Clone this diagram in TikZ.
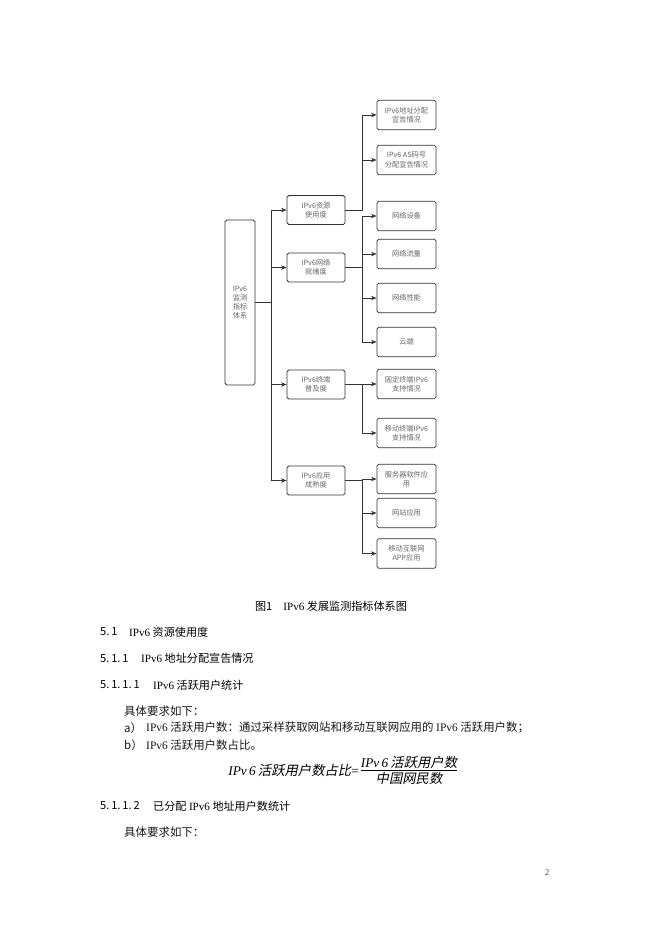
\documentclass[tikz,border=0pt]{standalone}
\usepackage{fontspec}
\setmainfont{Liberation Serif}
\newfontfamily\cjk{Noto Sans CJK SC}
\newfontfamily\cjkit{Noto Sans CJK SC}[FakeSlant=0.2]
\usetikzlibrary{arrows.meta}
\newcommand{\ipv}{{\rmfamily IPv6}}
\begin{document}
\begin{tikzpicture}[x=0.9pt,y=-0.9pt,
  bx/.style={draw=black!80, rounded corners=1.5pt, line width=0.75pt, text=black!60,
    font=\cjk\fontsize{6.5}{8.3}\selectfont, align=center, inner sep=0pt},
  lvtwo/.style={bx, minimum width=52.2pt, minimum height=26.1pt},
  lvthree/.style={bx, minimum width=53.1pt, minimum height=26.6pt},
  arr/.style={-{Stealth[length=5pt,width=4pt]}, line width=0.75pt, draw=black!80},
  ln/.style={line width=0.75pt, draw=black!80},
  body/.style={anchor=west, inner sep=0pt, font=\cjk\fontsize{10.3}{12}\selectfont, text=black!90},
  head/.style={anchor=west, inner sep=0pt, font=\cjk\fontsize{10}{12}\selectfont},
]
\useasboundingbox[fill=white] (0,0) rectangle (662,936);

% root
\node[bx, minimum width=27pt, minimum height=148.5pt] (root) at (240,302.5) {IPv6\\监测\\指标\\体系};

% level 2
\node[lvtwo] (a) at (316,210) {IPv6资源\\使用度};
\node[lvtwo] (b) at (316,267.5) {IPv6网络\\就绪度};
\node[lvtwo] (c) at (316,384.5) {IPv6终端\\普及度};
\node[lvtwo] (d) at (316,480.5) {IPv6应用\\成熟度};

% level 3
\node[lvthree] (a1) at (406.5,115) {IPv6地址分配\\宣告情况};
\node[lvthree] (a2) at (406.5,160) {IPv6 AS码号\\分配宣告情况};
\node[lvthree] (b1) at (406.5,216) {网络设备};
\node[lvthree] (b2) at (406.5,254) {网络流量};
\node[lvthree] (b3) at (406.5,298) {网络性能};
\node[lvthree] (b4) at (406.5,342) {云端};
\node[lvthree] (c1) at (406.5,384) {固定终端IPv6\\支持情况};
\node[lvthree] (c2) at (406.5,433) {移动终端IPv6\\支持情况};
\node[lvthree] (d1) at (406.5,479) {服务器软件应\\用};
\node[lvthree] (d2) at (406.5,513) {网站应用};
\node[lvthree] (d3) at (406.5,553.5) {移动互联网\\APP应用};

% trunk coordinates
\coordinate (t) at (271,0);
\coordinate (s) at (362,0);

% root connectors
\draw[ln] (root.east) -- (root.east -| t);
\draw[ln] (a.west -| t) -- (d.west -| t);
\foreach \n in {a,b,c,d} \draw[arr] (\n.west -| t) -- (\n.west);

% level 2 connectors
\draw[ln] (a.east) -- (a.east -| s) -- (a1.west -| s);
\foreach \n in {a1,a2} \draw[arr] (\n.west -| s) -- (\n.west);

\draw[ln] (b.east) -- (b.east -| s);
\draw[ln] (b1.west -| s) -- (b4.west -| s);
\foreach \n in {b1,b2,b3,b4} \draw[arr] (\n.west -| s) -- (\n.west);

\draw[ln] (c.east) -- (c.east -| s);
\draw[ln] (c1.west -| s) -- (c2.west -| s);
\foreach \n in {c1,c2} \draw[arr] (\n.west -| s) -- (\n.west);

\draw[ln] (d.east) -- (d.east -| s);
\draw[ln] (d1.west -| s) -- (d3.west -| s);
\foreach \n in {d1,d2,d3} \draw[arr] (\n.west -| s) -- (\n.west);

% caption and text
\node[font=\cjk\fontsize{10}{12}\selectfont, inner sep=0pt] (cap) at (331,606) {图1\hspace{1em}\ipv{} 发展监测指标体系图};

\node[head] (h1n) at (100,632) {5.\,1};
\node[head] (h1) at (129,632) {\ipv{} 资源使用度};
\node[head] (h2n) at (100,658.5) {5.\,1.\,1};
\node[head] (h2) at (141,658.5) {\ipv{} 地址分配宣告情况};
\node[head] (h3n) at (100,685) {5.\,1.\,1.\,1};
\node[head] (h3) at (153,685) {\ipv{} 活跃用户统计};

\node[body] (p1) at (124,711) {具体要求如下：};
\node[body] (la) at (124,728) {a）};
\node[body] (ta) at (146,728) {\ipv{} 活跃用户数：通过采样获取网站和移动互联网应用的 \ipv{} 活跃用户数；};
\node[body] (lb) at (124,745) {b）};
\node[body] (tb) at (146,745) {\ipv{} 活跃用户数占比。};

% formula
\node[anchor=east, inner sep=0pt, font=\fontsize{12}{14}\selectfont] (fl) at (359,770) {{\itshape IPv\,6}\,{\cjkit 活跃用户数占比}=};
\node[inner sep=0pt, font=\fontsize{12}{14}\selectfont] (fn) at (409,762) {{\itshape IPv\,6}\,{\cjkit 活跃用户数}};
\node[inner sep=0pt, font=\fontsize{12}{14}\selectfont] (fd) at (409,778.5) {{\cjkit 中国网民数}};
\draw[line width=0.5pt] (fn.south west |- 0,770.5) coordinate (bl) -- (bl -| fn.south east);

\node[head] (h4n) at (100,806) {5.\,1.\,1.\,2};
\node[head] (h4) at (153,806) {已分配 \ipv{} 地址用户数统计};
\node[body] (p2) at (124,832) {具体要求如下：};

\node[inner sep=0pt, font=\rmfamily\fontsize{8}{10}\selectfont, text=black!70] (pg) at (547,873) {2};
\end{tikzpicture}
\end{document}
